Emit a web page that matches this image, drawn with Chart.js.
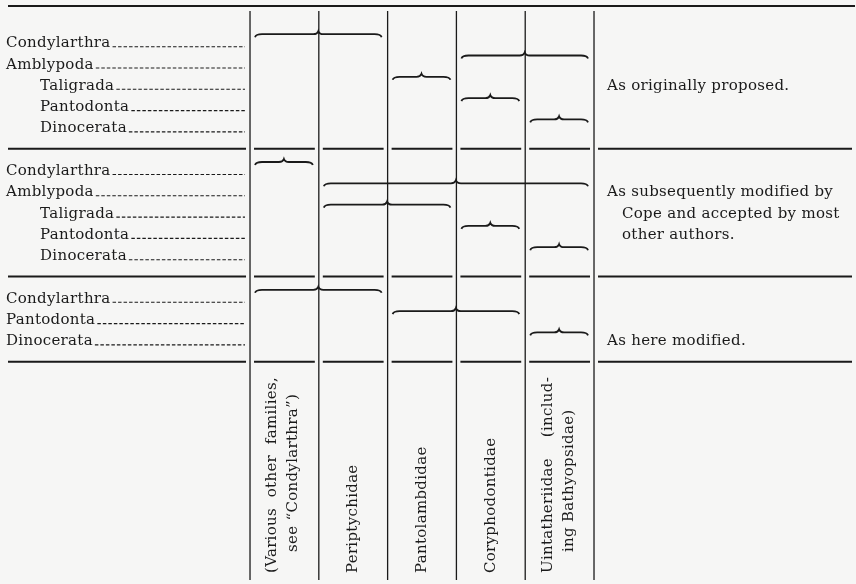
<!DOCTYPE html>
<html>
<head>
<meta charset="utf-8">
<script src="https://cdn.jsdelivr.net/npm/chart.js@4.4.1/dist/chart.umd.min.js"></script>
<style>
  html, body { margin: 0; padding: 0; background: #f6f6f5; }
  #wrap { width: 856px; height: 584px; position: relative; }
</style>
</head>
<body>
<div id="wrap"><canvas id="chart"></canvas></div>
<script>
// families across the bottom (one column each)
const columnLabels = [
  ['(Various other families,', 'see \u201cCondylarthra\u201d)'],
  ['Periptychidae'],
  ['Pantolambdidae'],
  ['Coryphodontidae'],
  ['Uintatheriidae (includ-', 'ing Bathyopsidae)']
];

// groups, row by row
const taxa = ['Condylarthra', 'Amblypoda', 'Taligrada', 'Pantodonta', 'Dinocerata',
              'Condylarthra', 'Amblypoda', 'Taligrada', 'Pantodonta', 'Dinocerata',
              'Condylarthra', 'Pantodonta', 'Dinocerata'];
const taxonRows   = [0, 1, 2, 3, 4, 6, 7, 8, 9, 10, 12, 13, 14];
const taxonIndent = [0, 0, 1, 1, 1, 0, 0, 1, 1, 1, 0, 0, 0];
// first and last family column covered by each group's brace
const spanFrom = [0, 3, 2, 3, 4, 0, 1, 1, 3, 4, 0, 2, 4];
const spanTo   = [1, 4, 2, 3, 4, 0, 4, 2, 3, 4, 1, 3, 4];

const sectionNotes = [
  ['As originally proposed.'],
  ['As subsequently modified by', 'Cope and accepted by most', 'other authors.'],
  ['As here modified.']
];
const sectionNoteRows = [2, 7, 14];
const dividerRows = [-1.7, 5, 11, 15];

const INK = '#1a1a1a';
const FONT = '15px "DejaVu Serif", serif';

function drawBrace(ctx, x1, x2, y) {
  const mid = (x1 + x2) / 2;
  ctx.beginPath();
  ctx.moveTo(x1, y + 3);
  ctx.quadraticCurveTo(x1 + 1, y, x1 + 7, y);
  ctx.lineTo(mid - 5, y);
  ctx.quadraticCurveTo(mid - 1, y, mid, y - 3);
  ctx.quadraticCurveTo(mid + 1, y, mid + 5, y);
  ctx.lineTo(x2 - 7, y);
  ctx.quadraticCurveTo(x2 - 1, y, x2, y + 3);
  ctx.stroke();
}

function fillJustified(ctx, text, width) {
  const words = text.split(' ');
  if (words.length < 2) { ctx.fillText(text, 0, 0); return; }
  const used = words.reduce((s, w) => s + ctx.measureText(w).width, 0);
  const gap = (width - used) / (words.length - 1);
  let x = 0;
  words.forEach(w => { ctx.fillText(w, x, 0); x += ctx.measureText(w).width + gap; });
}

const tablePlugin = {
  id: 'table',
  beforeDraw(chart) {
    const ctx = chart.ctx;
    ctx.save();
    ctx.fillStyle = '#f6f6f5';
    ctx.fillRect(0, 0, chart.width, chart.height);
    ctx.restore();
  },
  afterDatasetsDraw(chart) {
    const ctx = chart.ctx;
    const xs = chart.scales.x, ys = chart.scales.y;
    const bounds = [0, 1, 2, 3, 4, 5].map(v => xs.getPixelForValue(v));
    const bottom = chart.chartArea.bottom;
    ctx.save();
    ctx.strokeStyle = INK;
    ctx.fillStyle = INK;

    // horizontal rules
    dividerRows.forEach((r, i) => {
      const y = ys.getPixelForValue(r);
      ctx.lineWidth = 2;
      ctx.beginPath();
      if (i === 0) {
        ctx.moveTo(8, y); ctx.lineTo(855, y);
      } else {
        ctx.moveTo(8, y); ctx.lineTo(bounds[0] - 4, y);
        for (let k = 0; k < 5; k++) {
          ctx.moveTo(bounds[k] + 4, y); ctx.lineTo(bounds[k + 1] - 4, y);
        }
        ctx.moveTo(bounds[5] + 4, y); ctx.lineTo(852, y);
      }
      ctx.stroke();
    });

    // column rules
    ctx.lineWidth = 1.3;
    bounds.forEach(x => {
      ctx.beginPath();
      ctx.moveTo(x, ys.getPixelForValue(dividerRows[0]) + 5);
      ctx.lineTo(x, bottom);
      ctx.stroke();
    });

    // row labels with dotted leaders
    ctx.font = FONT;
    ctx.letterSpacing = '0.3px';
    ctx.textBaseline = 'alphabetic';
    ctx.textAlign = 'left';
    taxa.forEach((name, i) => {
      const y = ys.getPixelForValue(taxonRows[i]) + 5;
      const x = taxonIndent[i] ? 40 : 6;
      ctx.fillText(name, x, y);
      const end = x + ctx.measureText(name).width + 2;
      ctx.save();
      ctx.lineWidth = 1.1;
      ctx.setLineDash([3.5, 2]);
      ctx.beginPath();
      ctx.moveTo(end, y - 0.5);
      ctx.lineTo(bounds[0] - 5, y - 0.5);
      ctx.stroke();
      ctx.restore();
    });

    // braces, from the bar elements placed by the scales
    ctx.lineWidth = 1.8;
    chart.getDatasetMeta(0).data.forEach(bar => {
      const a = Math.min(bar.x, bar.base), b = Math.max(bar.x, bar.base);
      drawBrace(ctx, a + 5, b - 6, bar.y - 8);
    });

    // section notes
    sectionNotes.forEach((lines, i) => {
      lines.forEach((t, j) => {
        const y = ys.getPixelForValue(sectionNoteRows[i] + j) + 5;
        ctx.fillText(t, j ? bounds[5] + 28 : bounds[5] + 13, y);
      });
    });

    // rotated family names
    ctx.textBaseline = 'middle';
    columnLabels.forEach((lines, k) => {
      const cx = xs.getPixelForValue(k + 0.5);
      lines.forEach((t, j) => {
        const x = lines.length === 1 ? cx : cx + (j ? 9 : -12);
        ctx.save();
        ctx.translate(x, j ? 552 : 573);
        ctx.rotate(-Math.PI / 2);
        if (lines.length > 1 && j === 0) fillJustified(ctx, t, 196);
        else ctx.fillText(t, 0, 0);
        ctx.restore();
      });
    });
    ctx.restore();
  }
};

new Chart(document.getElementById('chart'), {
  type: 'bar',
  data: {
    datasets: [{
      label: 'groups',
      data: taxa.map((t, i) => ({ x: [spanFrom[i], spanTo[i] + 1], y: taxonRows[i] })),
      backgroundColor: 'rgba(0,0,0,0)',
      borderWidth: 0
    }]
  },
  options: {
    indexAxis: 'y',
    responsive: true,
    maintainAspectRatio: false,
    animation: false,
    layout: { padding: { top: 6, bottom: 4, left: 0, right: 0 } },
    plugins: { legend: { display: false }, tooltip: { enabled: false } },
    scales: {
      x: { type: 'linear', min: -3.634, max: 8.808, display: false },
      y: { type: 'linear', min: -1.7, max: 25.25, reverse: true, offset: false, display: false }
    }
  },
  plugins: [tablePlugin]
});
</script>
</body>
</html>
